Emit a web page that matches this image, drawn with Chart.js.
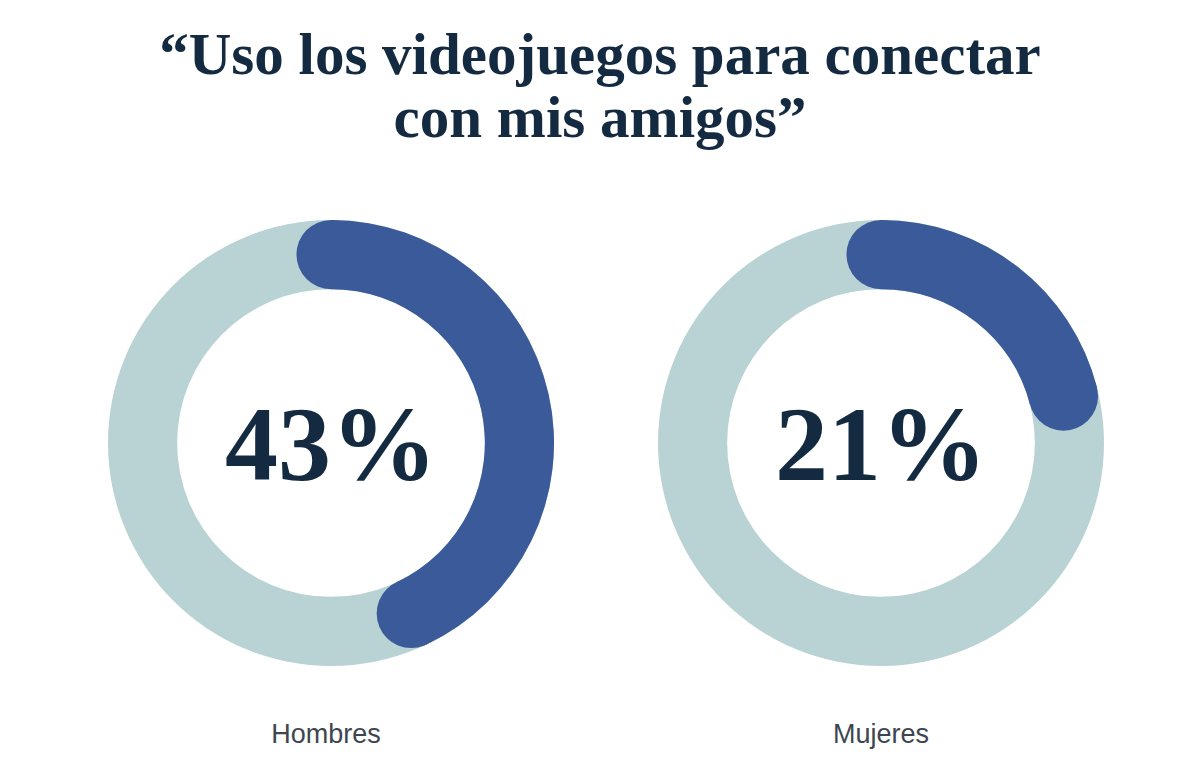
<!DOCTYPE html>
<html lang="es">
<head>
<meta charset="utf-8">
<script src="https://cdn.jsdelivr.net/npm/chart.js@4.4.1/dist/chart.umd.min.js"></script>
<style>
  html, body { margin: 0; padding: 0; background: #ffffff; }
  body { width: 1200px; height: 772px; position: relative; overflow: hidden; }
  .title { position: absolute; left: 0; width: 1200px; text-align: center;
           font-family: "Liberation Serif", serif; font-weight: 700; color: #142a40;
           white-space: nowrap; line-height: 1; }
  .box { position: absolute; width: 446px; height: 446px; top: 220px; }
  .box canvas { width: 446px; height: 446px; display: block; }
  .lbl { position: absolute; width: 300px; text-align: center; top: 721px;
         font-family: "Liberation Sans", sans-serif; font-size: 27px; color: #3d4650; line-height: 1; }
</style>
</head>
<body>
<div class="title" id="t1" style="top:25px;font-size:59px;"></div>
<div class="title" id="t2" style="top:88px;font-size:59px;"></div>
<div class="box" style="left:108px;"><canvas id="c0" width="446" height="446"></canvas></div>
<div class="box" style="left:658px;"><canvas id="c1" width="446" height="446"></canvas></div>
<div class="lbl" id="l0" style="left:176px;"></div>
<div class="lbl" id="l1" style="left:731px;"></div>
<script>
const titleLines = ["\u201cUso los videojuegos para conectar", "con mis amigos\u201d"];
const groups = ["Hombres", "Mujeres"];
const shares = [43, 21];          // % que usa videojuegos para conectar con amigos
const rest = shares.map(v => 100 - v);
const centerLabels = ["43%", "21%"];
const colorMain = "#3a5a9a";
const colorTrack = "#b9d2d3";

document.getElementById("t1").textContent = titleLines[0];
document.getElementById("t2").textContent = titleLines[1];
document.getElementById("l0").textContent = groups[0];
document.getElementById("l1").textContent = groups[1];

const trackAndCaps = {
  id: "trackAndCaps",
  beforeDatasetsDraw(chart) {
    const a = chart.getDatasetMeta(0).data[0];
    if (!a) return;
    const ctx = chart.ctx;
    ctx.save();
    ctx.beginPath();
    ctx.arc(a.x, a.y, a.outerRadius, 0, Math.PI * 2);
    ctx.arc(a.x, a.y, a.innerRadius, Math.PI * 2, 0, true);
    ctx.closePath();
    ctx.fillStyle = colorTrack;
    ctx.fill("evenodd");
    ctx.restore();
  },
  afterDatasetsDraw(chart, args, opts) {
    const a = chart.getDatasetMeta(0).data[0];
    if (!a) return;
    const ctx = chart.ctx;
    const mid = (a.outerRadius + a.innerRadius) / 2;
    const r = (a.outerRadius - a.innerRadius) / 2;
    ctx.save();
    ctx.fillStyle = colorMain;
    [a.startAngle, a.endAngle].forEach(ang => {
      ctx.beginPath();
      ctx.arc(a.x + mid * Math.cos(ang), a.y + mid * Math.sin(ang), r, 0, Math.PI * 2);
      ctx.fill();
    });
    ctx.fillStyle = "#142a40";
    ctx.font = "700 106px 'Liberation Serif', serif";
    ctx.textAlign = "center";
    ctx.textBaseline = "alphabetic";
    ctx.fillText(opts.text, a.x, a.y + 37);
    ctx.restore();
  }
};

groups.forEach((g, i) => {
  new Chart(document.getElementById("c" + i), {
    type: "doughnut",
    data: {
      labels: [g, "Otros"],
      datasets: [{
        data: [shares[i], rest[i]],
        backgroundColor: [colorMain, "rgba(0,0,0,0)"],
        borderWidth: 0,
        hoverOffset: 0
      }]
    },
    options: {
      responsive: false,
      maintainAspectRatio: false,
      devicePixelRatio: 1,
      animation: false,
      cutout: "69%",
      layout: { padding: 0 },
      plugins: {
        legend: { display: false },
        tooltip: { enabled: false },
        trackAndCaps: { text: centerLabels[i] }
      }
    },
    plugins: [trackAndCaps]
  });
});
</script>
</body>
</html>
